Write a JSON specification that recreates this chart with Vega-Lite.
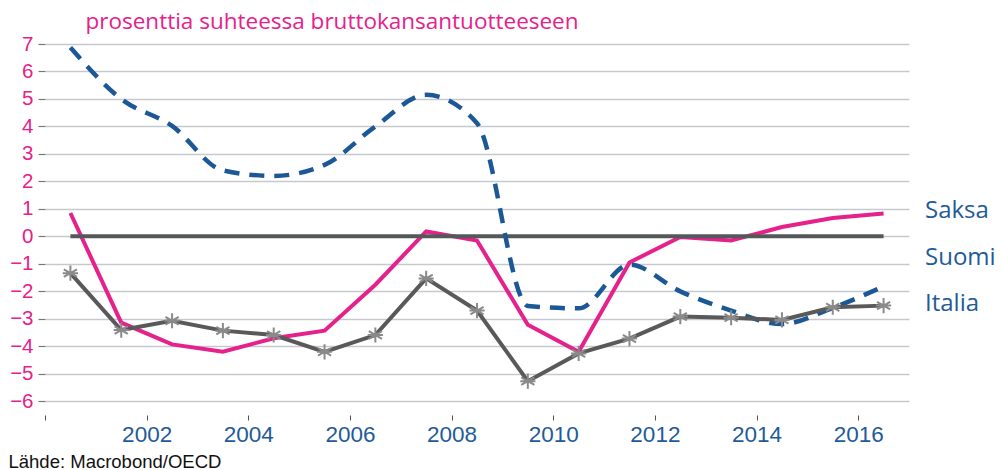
{
  "$schema": "https://vega.github.io/schema/vega-lite/v6.json",
  "width": 864,
  "height": 371,
  "autosize": {"type": "none"},
  "padding": {"left": 45, "top": 44, "right": 93, "bottom": 55},
  "background": "white",
  "config": {"view": {"stroke": null}},
  "datasets": {
    "series": [
      {"country": "Saksa", "x": 2000.5, "value": 0.85},
      {"country": "Saksa", "x": 2001.5, "value": -3.14},
      {"country": "Saksa", "x": 2002.5, "value": -3.93},
      {"country": "Saksa", "x": 2003.5, "value": -4.2},
      {"country": "Saksa", "x": 2004.5, "value": -3.71},
      {"country": "Saksa", "x": 2005.5, "value": -3.43},
      {"country": "Saksa", "x": 2006.5, "value": -1.76},
      {"country": "Saksa", "x": 2007.5, "value": 0.18},
      {"country": "Saksa", "x": 2008.5, "value": -0.15},
      {"country": "Saksa", "x": 2009.5, "value": -3.22},
      {"country": "Saksa", "x": 2010.5, "value": -4.2},
      {"country": "Saksa", "x": 2011.5, "value": -0.95},
      {"country": "Saksa", "x": 2012.5, "value": -0.02},
      {"country": "Saksa", "x": 2013.5, "value": -0.15},
      {"country": "Saksa", "x": 2014.5, "value": 0.34},
      {"country": "Saksa", "x": 2015.5, "value": 0.67},
      {"country": "Saksa", "x": 2016.5, "value": 0.83},
      {"country": "Suomi", "x": 2000.5, "value": 6.87},
      {"country": "Suomi", "x": 2001.5, "value": 5.0},
      {"country": "Suomi", "x": 2002.5, "value": 4.02},
      {"country": "Suomi", "x": 2003.5, "value": 2.4},
      {"country": "Suomi", "x": 2004.5, "value": 2.2},
      {"country": "Suomi", "x": 2005.5, "value": 2.6},
      {"country": "Suomi", "x": 2006.5, "value": 4.0},
      {"country": "Suomi", "x": 2007.5, "value": 5.15},
      {"country": "Suomi", "x": 2008.5, "value": 4.12},
      {"country": "Suomi", "x": 2009.5, "value": -2.53},
      {"country": "Suomi", "x": 2010.5, "value": -2.62},
      {"country": "Suomi", "x": 2011.5, "value": -1.03},
      {"country": "Suomi", "x": 2012.5, "value": -2.0},
      {"country": "Suomi", "x": 2013.5, "value": -2.7},
      {"country": "Suomi", "x": 2014.5, "value": -3.19},
      {"country": "Suomi", "x": 2015.5, "value": -2.6},
      {"country": "Suomi", "x": 2016.5, "value": -1.82},
      {"country": "Italia", "x": 2000.5, "value": -1.34},
      {"country": "Italia", "x": 2001.5, "value": -3.41},
      {"country": "Italia", "x": 2002.5, "value": -3.07},
      {"country": "Italia", "x": 2003.5, "value": -3.43},
      {"country": "Italia", "x": 2004.5, "value": -3.59},
      {"country": "Italia", "x": 2005.5, "value": -4.2},
      {"country": "Italia", "x": 2006.5, "value": -3.59},
      {"country": "Italia", "x": 2007.5, "value": -1.53},
      {"country": "Italia", "x": 2008.5, "value": -2.7},
      {"country": "Italia", "x": 2009.5, "value": -5.27},
      {"country": "Italia", "x": 2010.5, "value": -4.26},
      {"country": "Italia", "x": 2011.5, "value": -3.72},
      {"country": "Italia", "x": 2012.5, "value": -2.92},
      {"country": "Italia", "x": 2013.5, "value": -2.96},
      {"country": "Italia", "x": 2014.5, "value": -3.04},
      {"country": "Italia", "x": 2015.5, "value": -2.58},
      {"country": "Italia", "x": 2016.5, "value": -2.52}
    ],
    "zero": [{"x": 2000.5, "x2": 2016.5, "value": 0}]
  },
  "encoding": {
    "x": {
      "field": "x",
      "type": "quantitative",
      "scale": {"domain": [2000, 2017], "nice": false, "zero": false},
      "axis": {
        "title": "Lähde: Macrobond/OECD",
        "titleFont": "Liberation Sans",
        "titleFontSize": 18.5,
        "titleFontWeight": "normal",
        "titleColor": "#111111",
        "titleAnchor": "start",
        "titleAlign": "left",
        "titleBaseline": "alphabetic",
        "titleX": -37,
        "titleY": 52,
        "values": [2000, 2002, 2004, 2006, 2008, 2010, 2012, 2014, 2016],
        "labelExpr": "datum.value == 2000 ? '' : format(datum.value, 'd')",
        "labelFont": "Liberation Sans",
        "labelFontSize": 22.5,
        "labelColor": "#1f5a99",
        "labelPadding": 3,
        "tickSize": 5,
        "tickColor": "#555555",
        "tickWidth": 1,
        "domain": false,
        "grid": false
      }
    },
    "y": {
      "field": "value",
      "type": "quantitative",
      "scale": {"domain": [-6.5, 7], "nice": false, "zero": false},
      "axis": {
        "title": "prosenttia suhteessa bruttokansantuotteeseen",
        "titleFont": "Open Sans",
        "titleFontSize": 22.5,
        "titleFontWeight": "normal",
        "titleColor": "#e5218b",
        "titleAngle": 0,
        "titleAlign": "left",
        "titleBaseline": "alphabetic",
        "titleX": 40,
        "titleY": -16,
        "values": [-6, -5, -4, -3, -2, -1, 0, 1, 2, 3, 4, 5, 6, 7],
        "format": "d",
        "labelFont": "Liberation Sans",
        "labelFontSize": 20.5,
        "labelColor": "#e5218b",
        "labelPadding": 5,
        "tickSize": 7,
        "tickColor": "#777777",
        "tickWidth": 1.2,
        "domain": false,
        "grid": true,
        "gridColor": "#c5c9cd",
        "gridWidth": 1.5
      }
    }
  },
  "layer": [
    {
      "data": {"name": "series"},
      "transform": [{"filter": "datum.country == 'Saksa'"}],
      "mark": {"type": "line", "strokeWidth": 4, "strokeJoin": "miter"},
      "encoding": {
        "color": {
          "field": "country",
          "type": "nominal",
          "scale": {"domain": ["Saksa", "Suomi", "Italia"], "range": ["#e5218b", "#1b5895", "#595959"]},
          "legend": {
            "title": null,
            "orient": "none",
            "legendX": 856,
            "legendY": 155,
            "labelFont": "Open Sans",
            "labelFontSize": 24,
            "labelColor": "#1f5a99",
            "labelOffset": 0,
            "symbolSize": 0,
            "symbolStrokeWidth": 0,
            "symbolOpacity": 0,
            "rowPadding": 22.5
          }
        }
      }
    },
    {
      "data": {"name": "zero"},
      "mark": {"type": "rule", "color": "#545858", "strokeWidth": 4},
      "encoding": {"x2": {"field": "x2"}}
    },
    {
      "data": {"name": "series"},
      "transform": [{"filter": "datum.country == 'Suomi'"}],
      "mark": {"type": "line", "strokeWidth": 4.5, "strokeDash": [15, 10], "interpolate": "monotone"},
      "encoding": {"color": {"field": "country", "type": "nominal"}}
    },
    {
      "data": {"name": "series"},
      "transform": [{"filter": "datum.country == 'Italia'"}],
      "mark": {"type": "line", "strokeWidth": 4},
      "encoding": {"color": {"field": "country", "type": "nominal"}}
    },
    {
      "data": {"name": "series"},
      "transform": [{"filter": "datum.country == 'Italia'"}],
      "mark": {
        "type": "point",
        "shape": "M0,-1L0,1M-0.87,-0.5L0.87,0.5M-0.87,0.5L0.87,-0.5M-1,0L1,0",
        "filled": false,
        "stroke": "#8a8a8a",
        "strokeWidth": 2,
        "size": 230,
        "opacity": 1
      }
    }
  ]
}
